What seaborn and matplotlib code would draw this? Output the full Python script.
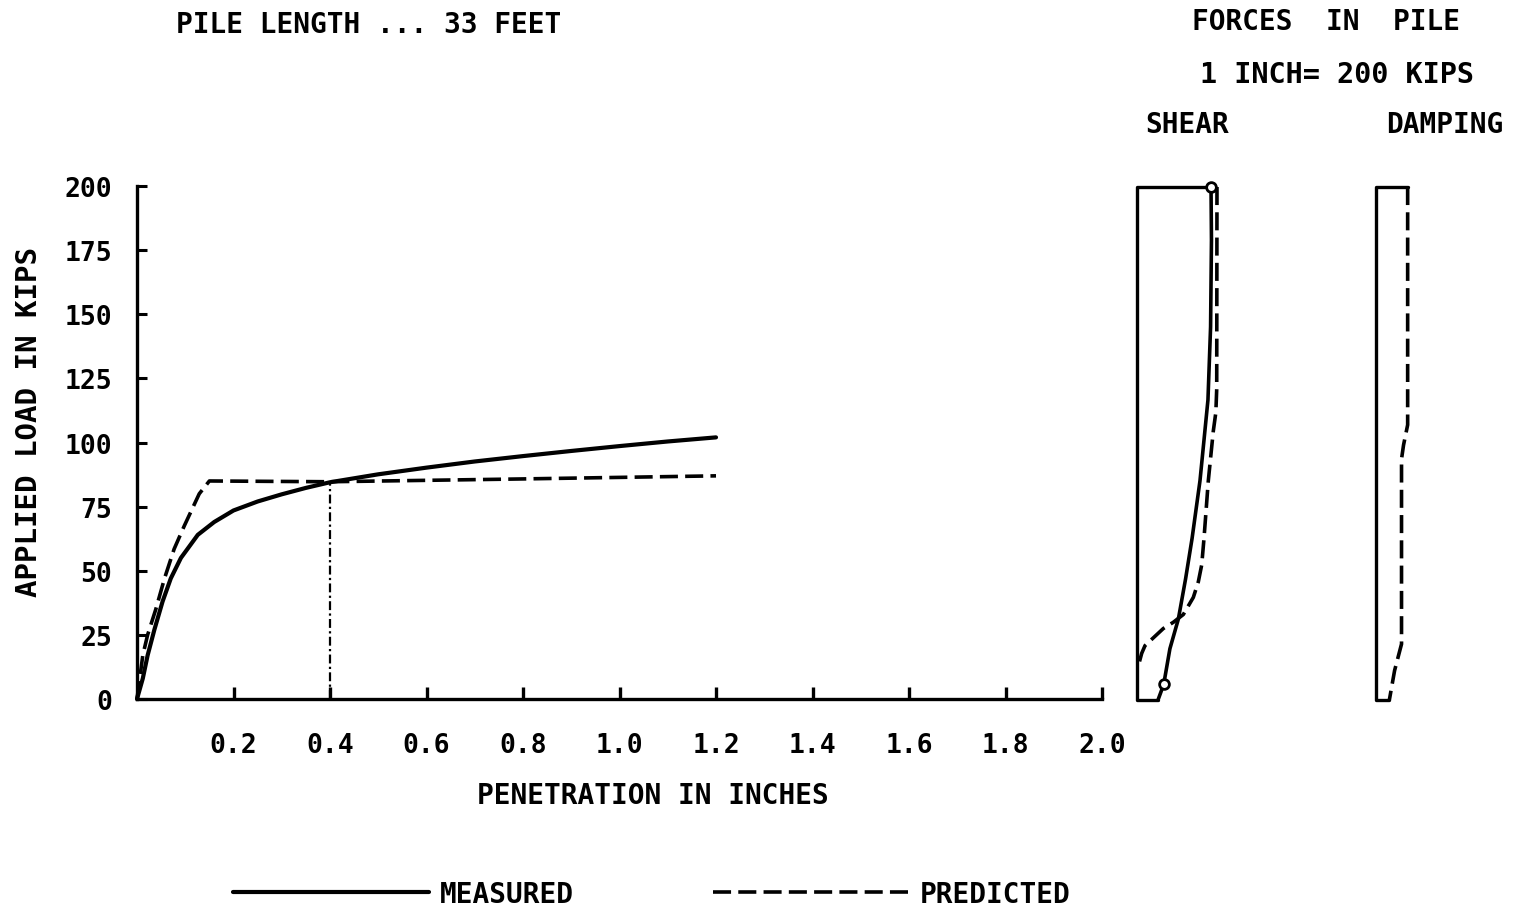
import numpy as np
import pandas as pd
import matplotlib
matplotlib.use("Agg")
import matplotlib.pyplot as plt
import seaborn as sns
from matplotlib.lines import Line2D

# ---------------- data ----------------
pen_measured = [0, 0.012, 0.022, 0.036, 0.053, 0.07, 0.091, 0.126, 0.16, 0.2,
                0.25, 0.3, 0.35, 0.4, 0.5, 0.6, 0.7, 0.8, 0.9, 1.0, 1.1, 1.2]
load_measured = [0, 8, 17, 27, 38, 47, 55, 64, 69, 73.5,
                 77, 79.8, 82.3, 84.5, 87.6, 90.2, 92.6, 94.7, 96.7, 98.6, 100.4, 102]

pen_predicted = [0, 0.005, 0.012, 0.022, 0.039, 0.057, 0.077, 0.098, 0.129, 0.15,
                 0.4, 0.8, 1.2]
load_predicted = [0, 7, 17, 25, 35, 47, 58.5, 67.5, 80, 85,
                  84.7, 85.8, 87]

marker_pen = [0.4, 0.4]
marker_load = [0, 84.5]

x_ticks = [0.2, 0.4, 0.6, 0.8, 1.0, 1.2, 1.4, 1.6, 1.8, 2.0]
x_ticklabels = ["0.2", "0.4", "0.6", "0.8", "1.0", "1.2", "1.4", "1.6", "1.8", "2.0"]
y_ticks = [0, 25, 50, 75, 100, 125, 150, 175, 200]
y_ticklabels = ["0", "25", "50", "75", "100", "125", "150", "175", "200"]

# forces in pile (kips) vs depth (ft)
shear_box_force = [85, 0, 0, 24.5]
shear_box_depth = [0, 0, 33, 33]
shear_depth = [0, 3.4, 9.0, 13.7, 18.9, 22.6, 25.2, 27.8, 29.7, 32.0, 33]
shear_force = [85, 85.5, 84.5, 81.5, 72.4, 63.4, 56, 47.7, 38.1, 31.0, 24.5]
shear_pred_depth = [0, 13.0, 14.5, 15.7, 18.9, 22.6, 24.3, 25.4, 26.4, 27.5,
                    28.0, 28.4, 29.0, 29.5, 30.0, 30.8]
shear_pred_force = [91.8, 91.5, 90.5, 87.6, 81.9, 77.0, 74.4, 70.5, 64.8, 53.4,
                    42.0, 30.6, 19.2, 9.7, 5.9, 2.1]

damp_box_force = [36.7, 0, 0, 15.8]
damp_box_depth = [0, 0, 33, 33]
damp_depth = [0, 15.3, 16.6, 17.5, 29.4, 31.1, 33]
damp_force = [36.7, 36.7, 32, 29.7, 29.7, 21.8, 15.8]

# ---------------- style ----------------
sns.set_theme(style="ticks")
plt.rcParams['font.family'] = ['DejaVu Sans Mono', 'DejaVu Sans']
plt.rcParams['font.weight'] = 'bold'
plt.rcParams['text.color'] = 'black'
plt.rcParams['axes.labelcolor'] = 'black'

W, H = 1516, 912
fig = plt.figure(figsize=(W / 100, H / 100), dpi=100)


def rect(x0, y0, x1, y1):
    return [x0 / W, 1 - y1 / H, (x1 - x0) / W, (y1 - y0) / H]


DASH = (0, (5, 2))

# ---------------- main axes ----------------
ax = fig.add_axes(rect(137, 187, 1102, 700))
meas = pd.DataFrame({"pen": pen_measured, "load": load_measured})
pred = pd.DataFrame({"pen": pen_predicted, "load": load_predicted})
sns.lineplot(data=meas, x="pen", y="load", ax=ax, color="black", lw=3,
             estimator=None, sort=False, clip_on=False)
sns.lineplot(data=pred, x="pen", y="load", ax=ax, color="black", lw=2.6,
             linestyle=DASH, estimator=None, sort=False, clip_on=False)
sns.lineplot(x=marker_pen, y=marker_load, ax=ax, color="black", lw=1.6,
             linestyle=(0, (4, 1.5, 1, 1.5)), estimator=None, sort=False)

ax.set_xlim(0, 2.0)
ax.set_ylim(0, 200)
for s in ["top", "right"]:
    ax.spines[s].set_visible(False)
for s in ["left", "bottom"]:
    ax.spines[s].set_linewidth(2.4)
    ax.spines[s].set_color("black")
ax.set_xticks(x_ticks)
ax.set_xticklabels(x_ticklabels)
ax.set_yticks(y_ticks)
ax.set_yticklabels(y_ticklabels)
ax.tick_params(axis="x", direction="in", length=9, width=2.4, pad=24,
               labelsize=19, colors="black")
ax.tick_params(axis="y", direction="in", length=7, width=2.2, pad=18,
               labelsize=19, colors="black")
ax.set_xlabel("PENETRATION IN INCHES", fontsize=20, fontweight="bold",
              color="black")
ax.set_ylabel("APPLIED LOAD IN KIPS", fontsize=21, fontweight="bold",
              color="black")
ax.xaxis.set_label_coords((653 - 137) / 965, (700 - 782) / 513)
ax.yaxis.set_label_coords((43 - 137) / 965, (700 - 422) / 513)

# ---------------- shear panel ----------------
axs = fig.add_axes(rect(1126, 188, 1236, 701))
axs.plot(shear_box_force, shear_box_depth, color="black", lw=2.4, clip_on=False)
axs.plot(shear_force, shear_depth, color="black", lw=2.6, clip_on=False,
         marker="o", markevery=[0, 9], ms=7, mfc="white", mec="black", mew=2)
axs.plot(shear_pred_force, shear_pred_depth, color="black", lw=2.6,
         linestyle=DASH, clip_on=False)
axs.set_xlim(-12, 113.5)
axs.set_ylim(33, 0)
axs.axis("off")

# ---------------- damping panel ----------------
axd = fig.add_axes(rect(1365, 188, 1425, 701))
axd.plot(damp_box_force, damp_box_depth, color="black", lw=2.4, clip_on=False)
axd.plot(damp_force, damp_depth, color="black", lw=2.6, linestyle=DASH,
         clip_on=False)
axd.set_xlim(-12, 56.5)
axd.set_ylim(33, 0)
axd.axis("off")

# ---------------- texts ----------------
fig.text(369 / W, 1 - 25 / H, "PILE LENGTH ... 33 FEET", ha="center",
         va="center", fontsize=20, fontweight="bold")
fig.text(1326 / W, 1 - 22 / H, "FORCES  IN  PILE", ha="center", va="center",
         fontsize=20, fontweight="bold")
fig.text(1337 / W, 1 - 75 / H, "1 INCH= 200 KIPS", ha="center", va="center",
         fontsize=20.5, fontweight="bold")
fig.text(1187 / W, 1 - 125 / H, "SHEAR", ha="center", va="center",
         fontsize=20, fontweight="bold")
fig.text(1445 / W, 1 - 125 / H, "DAMPING", ha="center", va="center",
         fontsize=20, fontweight="bold")

# ---------------- legend ----------------
handles = [Line2D([], [], color="black", lw=3),
           Line2D([], [], color="black", lw=2.6, linestyle=DASH)]
fig.legend(handles, ["MEASURED", "PREDICTED"], ncol=2, loc="center",
           bbox_to_anchor=(652 / W, 1 - 895 / H), frameon=False,
           handlelength=7.05, handletextpad=0.4, columnspacing=5.0,
           prop={"size": 20, "weight": "bold"})

fig.savefig("out.png", dpi=100, facecolor="white")
